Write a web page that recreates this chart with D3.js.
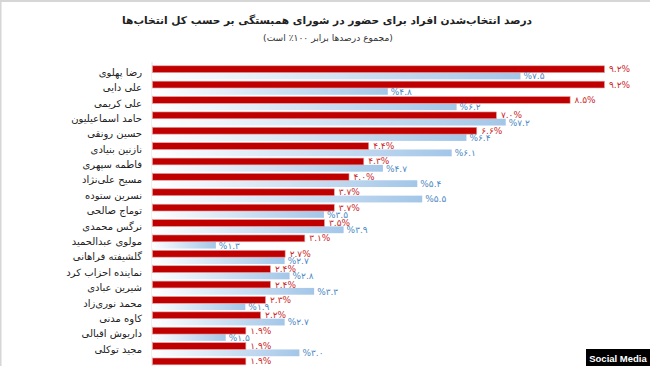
<!DOCTYPE html>
<html><head><meta charset="utf-8">
<script src="https://cdn.jsdelivr.net/npm/d3@7"></script>
<style>
html,body{margin:0;padding:0;background:#fff;}
svg{display:block;}
</style></head>
<body>
<svg id="chart" width="650" height="366"></svg>
<script>
const names = ["رضا پهلوی","علی دایی","علی کریمی","حامد اسماعیلیون","حسین رونقی","نازنین بنیادی","فاطمه سپهری","مسیح علی‌نژاد","نسرین ستوده","توماج صالحی","نرگس محمدی","مولوی عبدالحمید","گلشیفته فراهانی","نماینده احزاب کرد","شیرین عبادی","محمد نوری‌زاد","کاوه مدنی","داریوش اقبالی","مجید توکلی",""];
const redValues = [9.2,9.2,8.5,7.0,6.6,4.4,4.3,4.0,3.7,3.7,3.5,3.1,2.7,2.4,2.4,2.3,2.2,1.9,1.9,1.9];
const blueValues = [7.5,4.8,6.2,7.2,6.4,6.1,4.7,5.4,5.5,3.5,3.9,1.3,2.7,2.8,3.3,1.9,2.7,1.5,3.0,null];
const titleText = "درصد انتخاب‌شدن افراد برای حضور در شورای همبستگی بر حسب کل انتخاب‌ها";
const subtitleText = "(مجموع درصدها برابر ۱۰۰٪ است)";

const fa = s => s.replace(/[0-9]/g, d => "۰۱۲۳۴۵۶۷۸۹"[+d]);
const svg = d3.select("#chart");
const W = 650, H = 366;

// borders
svg.append("rect").attr("x",0).attr("y",0).attr("width",W).attr("height",2).attr("fill","#d6d6d6");
svg.append("rect").attr("x",0).attr("y",0).attr("width",1.5).attr("height",H).attr("fill","#d6d6d6");

// gradient for blue bars
const defs = svg.append("defs");
const g = defs.append("linearGradient").attr("id","blueGrad").attr("x1","0").attr("x2","1").attr("y1","0").attr("y2","0");
g.append("stop").attr("offset","0%").attr("stop-color","#ffffff");
g.append("stop").attr("offset","100%").attr("stop-color","#a3c6e8");

const x = d3.scaleLinear().domain([0, 9.2]).range([152, 604]);
const idx = d3.range(names.length);
const step = 15.38;
const y = d3.scaleBand().domain(idx).range([64.8, 64.8 + step*names.length]).padding(0);

// axis line
svg.append("line").attr("x1",x(0)).attr("x2",x(0)).attr("y1",62).attr("y2",H).attr("stroke","#e2e2e2").attr("stroke-width",1);

const rows = svg.append("g").selectAll("g").data(idx).join("g");
const redH = 6.8, blueH = 6.8;

// blue bars
rows.filter(i => blueValues[i] != null).append("rect")
  .attr("x", x(0)).attr("y", i => y(i) + 1 + redH)
  .attr("width", i => x(blueValues[i]) - x(0)).attr("height", blueH)
  .attr("fill","url(#blueGrad)");

// red bars
rows.append("rect")
  .attr("x", x(0)+0.5).attr("y", i => y(i) + 1)
  .attr("width", i => x(redValues[i]) - x(0)).attr("height", redH)
  .attr("fill","#c00000").attr("stroke","#e5a0a0").attr("stroke-width",0.6);

// red labels
rows.append("text")
  .attr("x", i => x(redValues[i]) + 5).attr("y", i => y(i) + 1 + redH/2 + 3)
  .attr("direction","ltr")
  .attr("font-family","DejaVu Sans").attr("font-size",9).attr("fill","#cc2a2a")
  .text(i => fa(redValues[i].toFixed(1)) + "%");

// blue labels
rows.filter(i => blueValues[i] != null).append("text")
  .attr("x", i => x(blueValues[i]) + 3).attr("y", i => y(i) + 1 + redH + blueH/2 + 3.4)
  .attr("direction","ltr")
  .attr("font-family","DejaVu Sans").attr("font-size",9).attr("fill","#4f8ac4")
  .text(i => "%" + fa(blueValues[i].toFixed(1)));

// category labels
rows.append("text")
  .attr("x", 142).attr("y", i => y(i) + 1 + redH + 3.2)
  .attr("text-anchor","end")
  .attr("font-family","DejaVu Sans").attr("font-size",10).attr("fill","#222")
  .text(i => names[i]);

// title
const t = svg.append("text").attr("x", 327).attr("y", 24)
  .attr("direction","rtl").attr("text-anchor","middle")
  .attr("font-family","DejaVu Sans").attr("font-weight","bold").attr("font-size",13).attr("fill","#222")
  .text(titleText);
let tw = t.node().getComputedTextLength();
t.attr("font-size", 13 * 410 / tw);

const st = svg.append("text").attr("x", 328).attr("y", 41)
  .attr("direction","rtl").attr("text-anchor","middle")
  .attr("font-family","DejaVu Sans").attr("font-size",9).attr("fill","#333")
  .text(subtitleText);
let sw = st.node().getComputedTextLength();
st.attr("font-size", 9 * 130 / sw);

// badge
svg.append("rect").attr("x",586).attr("y",349).attr("width",64).attr("height",17).attr("fill","#000");
svg.append("text").attr("x",618).attr("y",361.5).attr("text-anchor","middle")
  .attr("font-family","Liberation Sans").attr("font-weight","bold").attr("font-size",9.5).attr("fill","#fff")
  .text("Social Media");
</script>
</body></html>
